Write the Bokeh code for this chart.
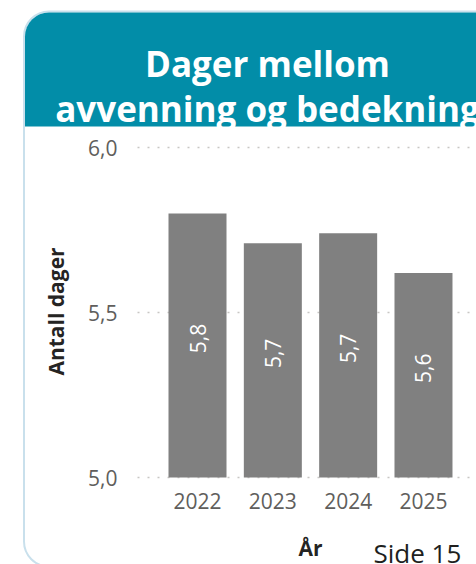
import math
from bokeh.plotting import figure
from bokeh.models import Range1d, BoxAnnotation, ColumnDataSource
from bokeh.core.properties import value
from bokeh.embed import file_html
from bokeh.resources import INLINE

# ---- data ----
years = ["2022", "2023", "2024", "2025"]
days = [5.80, 5.71, 5.74, 5.62]
y_ticks = [5.0, 5.5, 6.0]
y_tick_labels = ["5,0", "5,5", "6,0"]
title_lines = ["Dager mellom", "avvenning og bedekning"]
y_title = "Antall dager"
x_title = "År"
page_note = "Side 15"

W, H = 476, 564
FONT = value("Open Sans")

# pixel helpers (page px -> canvas data coords, y up)
def dx(px):
    return px

def dy(py):
    return H - py

p = figure(width=W, height=H, output_backend="svg", toolbar_location=None,
           x_axis_location=None, y_axis_location=None,
           x_range=Range1d(0, W), y_range=Range1d(0, H),
           min_border=0, outline_line_color=None,
           background_fill_color="white", border_fill_color="white")
p.grid.visible = False

# value scale: 5.0 at page y 477, 6.0 at page y 147
ppu = 330.0
y5 = dy(477)
p.extra_y_ranges = {"val": Range1d(5.0 - y5 / ppu, 5.0 + (H - y5) / ppu)}
# category scale: bar centers at page x 197 + 75.33*i
step = 75.33
c0 = dx(197)
p.extra_x_ranges = {"bx": Range1d(-c0 / step, (W - c0) / step)}

# card + header
card = BoxAnnotation(left=23.5, right=W + 60, bottom=-2, top=dy(11),
                     fill_color="white", fill_alpha=1.0,
                     line_color="#c9e0ec", line_alpha=1.0, line_width=2,
                     border_radius=25, level="underlay")
header = BoxAnnotation(left=24.5, right=W + 60, bottom=dy(126), top=dy(12),
                       fill_color="#028da8", fill_alpha=1.0, line_color=None,
                       border_radius=(24, 24, 0, 0), level="underlay")
p.add_layout(card)
p.add_layout(header)

# title
p.text(x=[dx(267), dx(267)], y=[dy(63), dy(108)], text=title_lines,
       text_align="center", text_baseline="alphabetic", text_color="white",
       text_font=FONT, text_font_style="bold", text_font_size="35px")

# gridlines
p.segment(x0=[dx(137)] * len(y_ticks), x1=[W + 10] * len(y_ticks),
          y0=y_ticks, y1=y_ticks, y_range_name="val",
          line_color="#c8c6c4", line_width=1.5, line_dash="2 8")

# y tick labels
p.text(x=[dx(117)] * len(y_ticks), y=y_ticks, text=y_tick_labels,
       y_range_name="val", text_align="right", text_baseline="middle",
       text_color="#605e5c", text_font=FONT, text_font_size="21px")

# bars
idx = list(range(len(years)))
src = ColumnDataSource(dict(
    x=idx, top=days,
    mid=[(d + 5.0) / 2 for d in days],
    lab=[f"{d:.1f}".replace(".", ",") for d in days],
))
p.vbar(x="x", top="top", bottom=5.0, width=0.77, source=src,
       x_range_name="bx", y_range_name="val",
       fill_color="#808080", line_color=None)
p.text(x="x", y="mid", text="lab", source=src,
       x_range_name="bx", y_range_name="val", angle=math.pi / 2,
       y_offset=-7, text_align="center", text_baseline="middle",
       text_color="white", text_font=FONT, text_font_size="21px")

# x tick labels
p.text(x=idx, y=[dy(500)] * len(years), text=years, x_range_name="bx",
       text_align="center", text_baseline="middle",
       text_color="#605e5c", text_font=FONT, text_font_size="21px")

# axis titles
p.text(x=[(idx[0] + idx[-1]) / 2], y=[dy(547)], text=[x_title], x_range_name="bx",
       text_align="center", text_baseline="alphabetic",
       text_color="#252423", text_font=FONT, text_font_style="bold",
       text_font_size="21px")
p.text(x=[dx(55)], y=[dy(311)], text=[y_title], angle=math.pi / 2,
       text_align="center", text_baseline="middle",
       text_color="#252423", text_font=FONT, text_font_style="bold",
       text_font_size="21px")

# page note
p.text(x=[dx(373)], y=[dy(552)], text=[page_note],
       text_align="left", text_baseline="alphabetic",
       text_color="#201f1e", text_font=FONT, text_font_size="26px")

open("out.html", "w").write(file_html(p, INLINE))
